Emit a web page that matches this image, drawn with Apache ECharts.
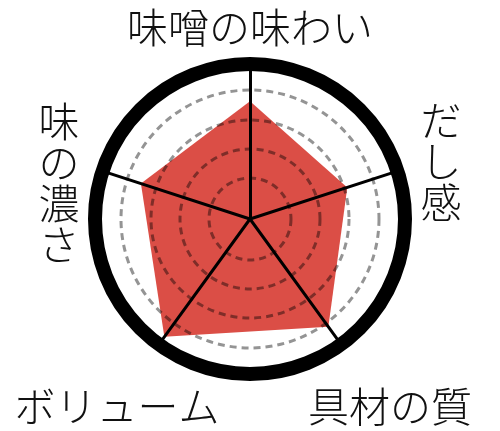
<!DOCTYPE html>
<html>
<head>
<meta charset="utf-8">
<script src="https://cdn.jsdelivr.net/npm/echarts@6/dist/echarts.min.js"></script>
<style>
html,body{margin:0;padding:0;background:#fff;}
#chart{width:500px;height:431px;}
</style>
</head>
<body>
<div id="chart"></div>
<script>
// 指標（上から反時計回り）
var indicatorNames = ['味噌の味わい', '味の濃さ', 'ボリューム', '具材の質', 'だし感'];
// 評価値（5点満点）
var scoreValues = [3.8, 3.7, 4.7, 4.3, 3.3];
var scoreMax = 5;
// 点線の目盛り円（半径 px）
var ringRadii = [41, 70, 99, 129];

var myChart = echarts.init(document.getElementById('chart'));

var FONT = '"Noto Sans CJK JP", "Noto Sans CJK SC", sans-serif';

function indicators() {
    return indicatorNames.map(function (n) {
        return {name: n, max: scoreMax, min: 0};
    });
}

// 縦書き用
function vertical(s) {
    return s.split('').join('\n');
}

var radars = [];
// 外枠と軸線
radars.push({
    center: [250, 219],
    radius: 155,
    startAngle: 90,
    shape: 'circle',
    splitNumber: 1,
    z: 4,
    indicator: indicators(),
    axisName: {show: false},
    axisLine: {lineStyle: {color: '#000', width: 3}},
    splitLine: {lineStyle: {color: '#000', width: 14}},
    splitArea: {show: false}
});
// 点線の円
ringRadii.forEach(function (r) {
    radars.push({
        center: [250, 219],
        radius: r,
        shape: 'circle',
        splitNumber: 1,
        z: 3,
        indicator: indicators(),
        axisName: {show: false},
        axisLine: {show: false},
        splitLine: {lineStyle: {color: 'rgba(0,0,0,0.42)', width: 3, type: [7, 5]}},
        splitArea: {show: false}
    });
});

var labelPos = [
    {x: 250, y: 27, v: false},
    {x: 59, y: 183, v: true},
    {x: 117, y: 406, v: false},
    {x: 390, y: 406, v: false},
    {x: 441, y: 161, v: true}
];

var graphics = labelPos.map(function (p, i) {
    return {
        type: 'text',
        x: p.x,
        y: p.y,
        z: 10,
        style: {
            text: p.v ? vertical(indicatorNames[i]) : indicatorNames[i],
            fill: '#111',
            font: '300 41px ' + FONT,
            lineHeight: 41,
            align: 'center',
            verticalAlign: 'middle'
        }
    };
});

var option = {
    backgroundColor: '#fff',
    animation: false,
    radar: radars,
    graphic: graphics,
    series: [{
        type: 'radar',
        radarIndex: 0,
        z: 2,
        symbol: 'none',
        lineStyle: {width: 0},
        areaStyle: {color: '#db4e46', opacity: 1},
        data: [{value: scoreValues, name: '評価'}]
    }]
};

myChart.setOption(option);
</script>
</body>
</html>
